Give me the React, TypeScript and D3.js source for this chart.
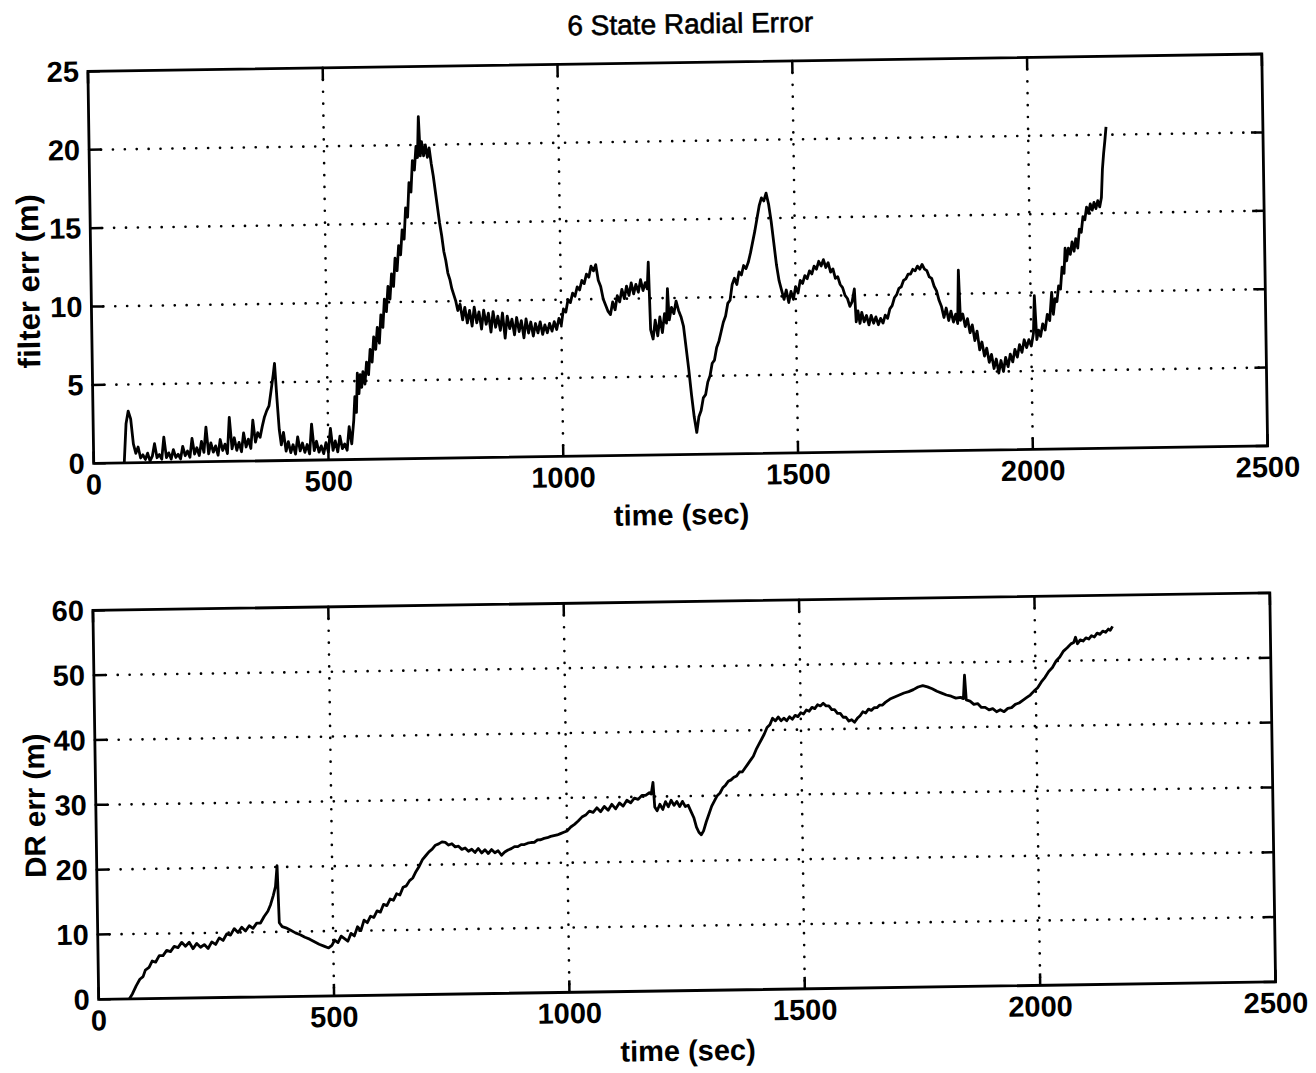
import React from "react";
import * as d3 from "d3";

// Filter radial error (m) versus time (sec)
const filterTime = [65,70,75,80,85,90,95,100,105,110,115,120,125,130,135,140,145,150,155,160,165,170,175,180,185,190,195,200,205,210,215,220,225,230,235,240,245,250,255,260,265,270,275,280,285,290,295,300,305,310,315,320,325,330,335,340,345,350,355,360,365,370,375,380,385,388,392,396,400,405,410,415,420,425,430,435,440,445,450,455,460,465,470,475,480,485,490,495,500,505,510,515,520,525,530,535,540,545,550,
  555,558,561,564,567,570,573,576,580,584,588,592,596,600,604,608,612,616,620,624,628,632,636,640,644,648,652,656,660,664,668,672,676,680,684,688,692,696,699,702,705,708,712,716,720,724,728,732,736,740,744,748,752,756,760,764,768,772,776,780,785,790,795,800,805,810,815,820,825,830,835,840,845,850,855,860,865,870,875,880,885,890,895,900,905,910,915,920,925,930,935,940,945,950,955,960,965,970,975,980,985,990,995,
  1000,1005,1010,1015,1020,1025,1030,1035,1040,1045,1050,1055,1060,1065,1070,1075,1080,1085,1090,1095,1100,1105,1110,1115,1120,1125,1130,1135,1140,1145,1150,1155,1160,1165,1170,1175,1180,1184,1187,1190,1195,1200,1205,1210,1215,1220,1224,1227,1230,1235,1240,1245,1250,1255,1260,1265,1270,1275,1280,1285,1290,1295,1300,1305,1310,1315,1320,1325,1330,1335,1340,1345,1350,1355,1360,1365,1370,1375,1380,1385,1390,1395,1400,1405,1410,1415,1420,1425,1430,1435,1440,1445,1450,1455,1460,1465,1470,1475,1480,1485,1490,1495,
  1500,1505,1510,1515,1520,1525,1530,1535,1540,1545,1550,1555,1560,1565,1570,1575,1580,1585,1590,1595,1600,1605,1610,1615,1620,1625,1628,1632,1636,1640,1645,1650,1655,1660,1665,1670,1675,1680,1685,1690,1695,1700,1705,1710,1715,1720,1725,1730,1735,1740,1745,1750,1755,1760,1765,1770,1775,1780,1785,1790,1795,1800,1805,1810,1815,1820,1825,1830,1835,1840,1844,1847,1850,1855,1860,1865,1870,1875,1880,1885,1890,1895,1900,1905,1910,1915,1920,1925,1930,1935,1940,1945,1950,1955,1960,1965,1970,1975,1980,1985,1990,1995,
  2000,2005,2008,2012,2016,2020,2025,2030,2035,2040,2045,2048,2052,2056,2060,2064,2068,2072,2075,2078,2082,2086,2090,2094,2098,2102,2106,2110,2114,2118,2122,2126,2130,2134,2138,2142,2146,2150,2154,2157,2160,2163,2166];
const filterErr = [0,2.5,3.3,2.8,1.2,0.6,1.0,0.3,0.5,0.2,0.6,0.1,0.4,1.2,0.3,0.5,0.2,1.6,0.3,0.6,0.2,0.8,0.3,0.5,0.2,1.0,0.4,0.7,0.3,1.5,0.5,0.9,0.4,1.3,0.6,2.2,0.5,1.2,0.6,1.0,0.4,1.4,0.7,1.1,0.5,2.8,0.8,1.5,0.7,1.2,0.6,1.8,0.9,1.4,0.8,2.6,1.2,1.8,1.5,2.2,2.8,3.2,3.5,4.5,5.5,6.2,4.0,2.0,1.0,1.8,0.6,1.2,0.5,1.0,0.4,1.5,0.6,1.1,0.5,1.0,0.4,2.3,0.6,1.2,0.5,0.9,0.4,1.1,0.5,2.0,0.6,1.2,0.5,1.5,0.7,1.0,0.6,2.1,1.0,
  2.5,4.0,3.0,5.5,4.2,5.4,4.6,5.6,4.8,6.2,5.4,7.0,6.2,7.8,7.0,8.4,7.4,9.2,8.4,10.2,9.4,11.0,10.2,11.8,11.0,12.8,12.0,13.6,13.0,14.6,14.0,16.0,15.4,17.6,17.0,19.0,18.4,19.9,19.2,21.8,19.3,20.2,19.3,20.0,19.2,19.8,18.8,18.0,17.0,16.0,15.0,14.2,13.2,12.6,11.8,11.4,10.8,10.4,10.0,9.4,9.8,8.8,9.6,8.6,9.4,8.4,9.6,8.6,9.3,8.2,9.4,8.5,9.2,8.0,9.3,8.3,9.0,8.1,9.2,7.6,9.0,8.2,8.8,7.8,8.9,8.0,8.7,7.6,8.8,7.9,8.6,7.7,8.5,7.9,8.6,7.8,8.4,7.9,8.5,8.0,8.6,8.1,8.8,
  8.4,9.4,9.2,10.0,9.8,10.4,10.2,10.8,10.6,11.2,11.0,11.6,11.4,12.1,11.8,12.2,11.2,10.8,10.0,9.6,9.2,9.0,9.8,9.3,10.2,9.8,10.6,10.0,10.8,10.2,11.0,10.3,10.9,10.4,11.2,10.5,11.0,10.6,12.3,8.0,7.4,8.6,7.6,8.8,7.8,9.0,8.4,10.6,8.6,9.4,9.0,9.8,9.2,8.8,8.2,6.8,5.4,3.8,2.4,1.4,2.4,2.8,3.6,3.8,4.6,5.0,5.8,6.0,6.8,7.2,7.8,8.4,8.8,9.6,9.8,10.8,11.2,10.8,11.6,11.4,12.0,11.8,12.2,12.8,13.5,14.2,15.0,15.8,16.3,16.1,16.6,15.9,14.8,13.4,12.0,11.0,10.4,9.8,10.4,9.6,10.3,9.8,
  10.6,10.2,11.0,10.8,11.3,11.1,11.6,11.4,11.9,11.7,12.2,11.9,12.3,11.8,12.1,11.5,11.7,11.1,11.2,10.7,10.5,10.0,9.8,9.3,9.6,10.4,8.3,9.0,8.2,8.9,8.3,8.7,8.1,8.7,8.2,8.6,8.1,8.5,8.2,8.7,8.5,9.1,9.3,9.8,10.0,10.4,10.5,10.9,11.0,11.3,11.3,11.6,11.5,11.8,11.6,11.9,11.6,11.5,11.1,11.0,10.5,10.2,9.6,9.2,8.5,9.1,8.3,8.9,8.2,8.7,8.1,11.5,8.3,8.7,7.9,8.4,7.5,8.0,7.0,7.6,6.4,6.9,6.0,6.5,5.6,6.1,5.2,5.8,4.9,5.7,5.0,5.9,5.3,6.1,5.6,6.4,5.9,6.7,6.2,7.0,6.5,7.0,
  6.6,7.4,9.8,7.0,7.6,7.2,8.0,7.6,8.6,8.2,10.0,8.6,9.6,9.4,10.4,10.2,11.6,11.2,12.8,12.0,12.8,12.4,13.2,12.6,13.4,12.8,14.0,13.8,14.8,14.6,15.4,15.0,15.6,15.2,15.7,15.3,15.8,15.4,16.0,17.8,18.8,19.6,20.5];

// Dead-reckoning radial error (m) versus time (sec)
const drTime = [65,72,80,88,95,100,108,115,122,130,138,146,154,162,170,178,186,194,202,210,218,226,234,242,250,258,266,274,282,290,298,306,314,322,330,338,346,354,362,368,374,379,383,386,392,400,410,420,430,440,450,460,470,480,490,497,503,510,517,524,531,538,545,552,559,566,573,580,587,594,601,608,615,622,629,636,643,650,657,664,671,678,685,692,699,706,713,720,727,734,741,748,755,762,769,776,783,790,797,804,811,818,825,832,839,846,853,860,867,874,881,888,895,902,909,916,923,930,937,944,951,958,965,972,979,986,993,
  1000,1008,1016,1024,1032,1040,1048,1056,1064,1072,1080,1088,1096,1104,1112,1120,1128,1136,1144,1152,1160,1168,1176,1180,1184,1187,1192,1198,1204,1210,1216,1222,1228,1234,1240,1246,1252,1258,1264,1270,1275,1280,1285,1290,1296,1302,1308,1314,1320,1326,1332,1338,1344,1350,1356,1362,1368,1374,1380,1386,1392,1398,1404,1410,1416,1422,1428,1434,1440,1446,1452,1458,1464,1470,1476,1482,1488,1494,
  1500,1506,1512,1518,1524,1530,1536,1542,1548,1554,1560,1566,1572,1578,1584,1590,1596,1602,1608,1614,1620,1626,1632,1638,1644,1650,1656,1662,1668,1674,1680,1690,1700,1710,1720,1730,1740,1750,1760,1770,1780,1790,1800,1810,1820,1830,1840,1846,1849,1852,1860,1868,1876,1884,1892,1900,1908,1916,1924,1932,1940,1948,1956,1964,1972,1980,1988,1996,
  2004,2012,2020,2028,2036,2044,2052,2060,2068,2076,2082,2086,2090,2096,2102,2108,2114,2120,2126,2132,2138,2144,2150,2156,2160,2165];
const drErr = [0,0.8,2.0,3.0,3.4,4.4,4.8,5.8,5.6,6.6,6.6,7.4,7.2,8.0,7.8,8.6,8.0,8.6,7.6,8.4,7.8,8.2,7.6,8.6,8.2,9.2,8.8,9.8,9.6,10.6,10.0,10.8,10.2,11.0,10.6,11.4,11.4,12.4,13.2,14.2,15.6,17.0,20.2,11.4,10.8,10.6,10.2,9.8,9.5,9.1,8.8,8.4,8.0,7.7,7.4,7.8,8.6,8.2,9.2,8.8,8.4,9.6,9.2,10.6,10.0,11.6,11.2,12.2,12.0,13.0,12.8,14.0,13.8,14.8,14.6,15.6,15.4,16.6,16.8,17.6,18.0,19.0,19.8,20.8,21.4,22.0,22.4,23.0,23.2,23.5,23.4,23.0,23.2,22.7,22.8,22.3,22.5,22.0,22.3,21.8,22.4,21.7,22.2,21.6,22.2,21.7,22.0,21.3,21.8,22.1,22.3,22.6,22.6,22.9,22.9,23.1,23.2,23.2,23.6,23.6,23.8,23.9,24.1,24.2,24.3,24.5,24.7,
  24.9,25.5,25.9,26.4,27.0,27.3,27.9,27.7,28.4,27.8,28.6,28.0,28.9,28.2,29.1,28.6,29.5,29.1,29.8,29.6,30.2,30.2,30.6,30.4,32.2,28.4,27.8,28.8,28.0,29.2,28.4,29.4,28.6,29.2,28.4,29.2,28.4,28.6,27.6,26.6,25.2,24.4,24.0,24.6,26.0,27.2,28.4,29.2,30.0,30.4,31.2,31.6,32.2,32.4,32.8,33.0,33.6,33.6,34.2,34.8,35.4,36.0,37.0,37.8,38.6,39.4,40.4,40.8,41.8,41.4,42.0,41.4,41.8,41.4,42.0,41.6,42.2,42.0,
  42.6,42.4,43.0,42.8,43.4,43.2,43.8,43.6,44.0,43.6,43.6,43.0,43.0,42.4,42.4,41.8,41.8,41.2,41.4,41.0,41.6,42.0,42.6,42.4,43.0,42.8,43.2,43.2,43.6,43.6,44.0,44.5,44.8,45.1,45.4,45.6,45.9,46.3,46.5,46.3,46.0,45.6,45.3,45.0,44.8,44.5,44.6,44.4,48.0,44.2,44.0,43.5,43.6,43.0,43.0,42.6,42.8,42.3,42.6,42.3,42.8,42.9,43.4,43.6,44.0,44.4,44.8,45.4,
  45.9,46.8,47.5,48.4,49.0,50.0,50.6,51.5,52.0,52.6,52.8,53.6,52.6,53.2,53.0,53.5,53.3,53.8,53.6,54.2,54.0,54.5,54.3,54.8,54.6,55.2];

const timeTicks = [0, 500, 1000, 1500, 2000, 2500];
const filterTicks = [0, 5, 10, 15, 20, 25];
const drTicks = [0, 10, 20, 30, 40, 50, 60];

const FONT = "'Liberation Sans', Arial, Helvetica, sans-serif";

type PanelProps = {
  left: number;
  top: number;
  width: number;
  height: number;
  times: number[];
  values: number[];
  yMax: number;
  yTicks: number[];
  yLabel: string;
  yLabelSize: number;
  yLabelDx: number;
  yLabelDy: number;
};

function Panel({ left, top, width, height, times, values, yMax, yTicks, yLabel, yLabelSize, yLabelDx, yLabelDy }: PanelProps) {
  const x = d3.scaleLinear().domain([0, 2500]).range([left, left + width]);
  const y = d3.scaleLinear().domain([0, yMax]).range([top + height, top]);
  const line = d3
    .line<number>()
    .x((_, i) => x(times[i]))
    .y((v) => y(v));
  const path = line(values) || "";
  const tickLen = 12;
  const bottom = top + height;
  const right = left + width;
  return (
    <g>
      {/* dotted grid */}
      {timeTicks.slice(1, -1).map((t) => (
        <line key={"gx" + t} x1={x(t)} x2={x(t)} y1={top} y2={bottom}
          stroke="#000" strokeWidth={2.6} strokeLinecap="round" strokeDasharray="0.1 11.8" />
      ))}
      {yTicks.slice(1, -1).map((v) => (
        <line key={"gy" + v} x1={left} x2={right} y1={y(v)} y2={y(v)}
          stroke="#000" strokeWidth={2.6} strokeLinecap="round" strokeDasharray="0.1 11.8" />
      ))}
      {/* data trace */}
      <path d={path} fill="none" stroke="#000" strokeWidth={2.8} strokeLinejoin="round" />
      {/* inward ticks on all four sides */}
      {timeTicks.map((t) => (
        <g key={"tx" + t}>
          <line x1={x(t)} x2={x(t)} y1={bottom} y2={bottom - tickLen} stroke="#000" strokeWidth={2.5} />
          <line x1={x(t)} x2={x(t)} y1={top} y2={top + tickLen} stroke="#000" strokeWidth={2.5} />
        </g>
      ))}
      {yTicks.map((v) => (
        <g key={"ty" + v}>
          <line x1={left} x2={left + tickLen} y1={y(v)} y2={y(v)} stroke="#000" strokeWidth={2.5} />
          <line x1={right} x2={right - tickLen} y1={y(v)} y2={y(v)} stroke="#000" strokeWidth={2.5} />
        </g>
      ))}
      <rect x={left} y={top} width={width} height={height} fill="none" stroke="#000" strokeWidth={2.8} />
      {/* tick labels */}
      {timeTicks.map((t) => (
        <text key={"lx" + t} x={x(t)} y={bottom + 31} textAnchor="middle"
          fontFamily={FONT} fontSize={29} fontWeight="bold">{t}</text>
      ))}
      {yTicks.map((v) => (
        <text key={"ly" + v} x={left - 9} y={y(v) + 10} textAnchor="end"
          fontFamily={FONT} fontSize={29} fontWeight="bold">{v}</text>
      ))}
      <text x={left + width / 2} y={bottom + 70} textAnchor="middle"
        fontFamily={FONT} fontSize={29} fontWeight="bold">time (sec)</text>
      <text transform={`translate(${left + yLabelDx}, ${top + height / 2 + yLabelDy}) rotate(-90)`} textAnchor="middle"
        fontFamily={FONT} fontSize={yLabelSize} fontWeight="bold">{yLabel}</text>
    </g>
  );
}

export default function App() {
  return (
    <svg width={1300} height={1060} style={{ display: "block", background: "#fff" }}>
      <g transform="rotate(-0.85 650 536)">
        <text x={690} y={26} textAnchor="middle" fontFamily={FONT} fontSize={28}
          stroke="#000" strokeWidth={0.6}>6 State Radial Error</text>
        <Panel left={87} top={55} width={1174} height={392}
          times={filterTime} values={filterErr} yMax={25} yTicks={filterTicks}
          yLabel="filter err (m)" yLabelSize={31} yLabelDx={-52} yLabelDy={13} />
        <Panel left={84} top={594} width={1177} height={389}
          times={drTime} values={drErr} yMax={60} yTicks={drTicks}
          yLabel="DR err (m)" yLabelSize={29.5} yLabelDx={-51} yLabelDy={0} />
      </g>
    </svg>
  );
}
